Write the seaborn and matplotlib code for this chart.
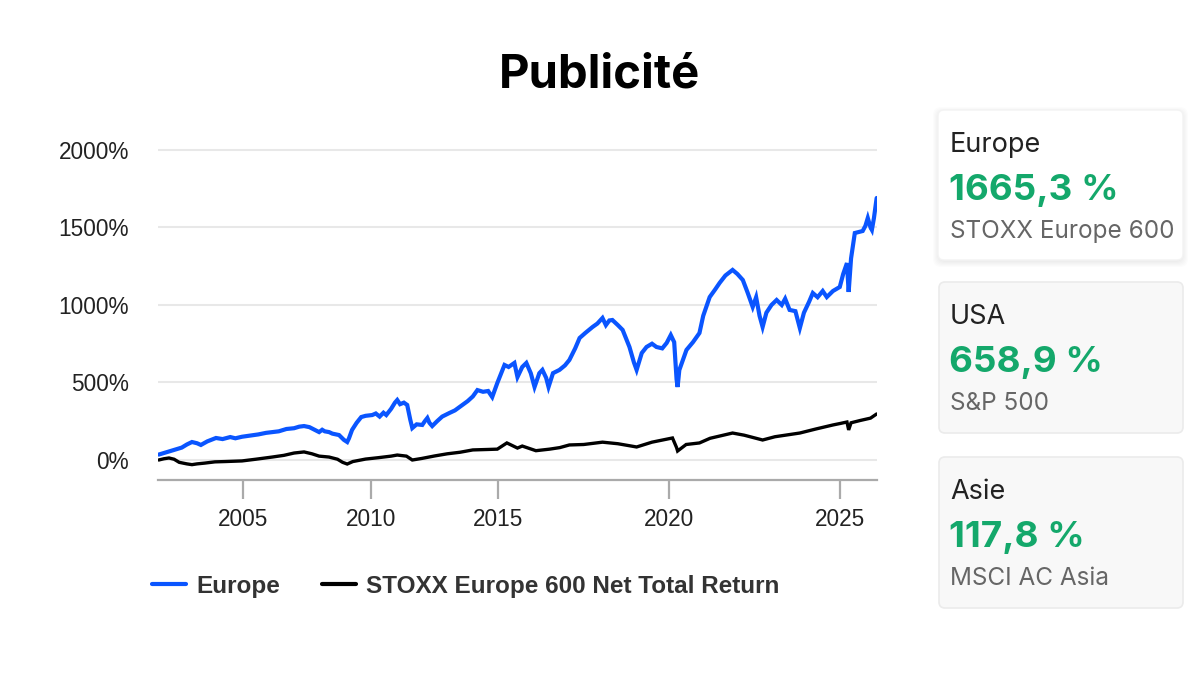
import numpy as np
import pandas as pd
import matplotlib
matplotlib.use("Agg")
import matplotlib.pyplot as plt
import seaborn as sns
from matplotlib.patches import FancyBboxPatch
from matplotlib.ticker import FuncFormatter

# --- data (cumulative performance, %)
europe_years = [2001.7, 2002.0, 2002.3, 2002.6, 2002.8, 2003.0, 2003.2, 2003.35, 2003.6, 2003.94,
                2004.2, 2004.5, 2004.7, 2004.96, 2005.3, 2005.6, 2005.9, 2006.14, 2006.4, 2006.7,
                2007.0, 2007.2, 2007.39, 2007.6, 2007.8, 2007.98, 2008.1, 2008.2, 2008.37, 2008.5,
                2008.76, 2008.95, 2009.08, 2009.15, 2009.27, 2009.45, 2009.63, 2009.8, 2010.06, 2010.2,
                2010.35, 2010.5, 2010.61, 2010.8, 2010.95, 2011.04, 2011.15, 2011.3, 2011.43, 2011.55,
                2011.63, 2011.8, 2012.02, 2012.12, 2012.22, 2012.3, 2012.41, 2012.6, 2012.8, 2013.08,
                2013.3, 2013.59, 2013.8, 2014.0, 2014.18, 2014.4, 2014.6, 2014.76, 2014.96, 2015.18,
                2015.3, 2015.47, 2015.56, 2015.7, 2015.82, 2015.95, 2016.06, 2016.2, 2016.29, 2016.4,
                2016.47, 2016.6, 2016.79, 2016.95, 2017.08, 2017.25, 2017.38, 2017.55, 2017.76, 2017.9,
                2018.05, 2018.15, 2018.25, 2018.34, 2018.5, 2018.64, 2018.84, 2018.97, 2019.05, 2019.2,
                2019.34, 2019.5, 2019.63, 2019.8, 2019.93, 2020.05, 2020.15, 2020.22, 2020.25, 2020.3,
                2020.51, 2020.7, 2020.89, 2021.0, 2021.19, 2021.35, 2021.48, 2021.65, 2021.86, 2022.0,
                2022.16, 2022.3, 2022.45, 2022.55, 2022.65, 2022.74, 2022.85, 2023.0, 2023.15, 2023.3,
                2023.4, 2023.53, 2023.7, 2023.83, 2023.95, 2024.1, 2024.21, 2024.35, 2024.5, 2024.62,
                2024.8, 2025.0, 2025.1, 2025.21, 2025.26, 2025.33, 2025.44, 2025.55, 2025.67, 2025.75,
                2025.82, 2025.9, 2025.94, 2026.0, 2026.08]
europe_values = [35, 50, 65, 80, 100, 116, 108, 97, 120, 142,
                 135, 148, 140, 150, 158, 165, 175, 180, 185, 200,
                 205, 215, 219, 212, 195, 180, 195, 185, 180, 170,
                 161, 130, 116, 140, 194, 240, 277, 285, 290, 300,
                 280, 305, 290, 330, 370, 387, 360, 370, 355, 260,
                 206, 230, 226, 250, 271, 240, 219, 250, 280, 303,
                 320, 355, 380, 410, 451, 440, 445, 406, 497, 613,
                 600, 626, 535, 600, 626, 560, 471, 560, 581, 530,
                 471, 560, 581, 610, 645, 720, 787, 820, 858, 880,
                 916, 870, 900, 903, 870, 839, 729, 630, 581, 690,
                 729, 750, 729, 720, 755, 806, 760, 520, 471, 580,
                 710, 760, 819, 930, 1051, 1100, 1142, 1190, 1226, 1200,
                 1161, 1080, 987, 1050, 930, 858, 950, 1000, 1032, 1000,
                 1040, 968, 960, 851, 950, 1020, 1077, 1050, 1090, 1051,
                 1090, 1116, 1200, 1270, 1084, 1300, 1464, 1470, 1477, 1510,
                 1561, 1500, 1484, 1560, 1690]

stoxx_years = [2001.7, 2001.9, 2002.1, 2002.3, 2002.5, 2002.8, 2003.0, 2003.2, 2003.5, 2003.9,
               2004.3, 2004.96, 2005.5, 2006.14, 2006.6, 2007.0, 2007.39, 2007.7, 2007.98, 2008.37,
               2008.7, 2008.9, 2009.08, 2009.3, 2009.8, 2010.3, 2010.8, 2011.04, 2011.4, 2011.63,
               2012.0, 2012.5, 2013.0, 2013.5, 2014.0, 2014.6, 2014.96, 2015.25, 2015.56, 2015.7,
               2016.1, 2016.5, 2016.8, 2017.08, 2017.5, 2018.05, 2018.5, 2019.05, 2019.5, 2020.1,
               2020.22, 2020.25, 2020.5, 2020.89, 2021.2, 2021.86, 2022.2, 2022.74, 2023.1, 2023.83,
               2024.3, 2024.8, 2025.0, 2025.21, 2025.26, 2025.33, 2025.6, 2025.9, 2026.08]
stoxx_values = [0, 8, 13, 5, -15, -25, -30, -25, -20, -12,
                -10, -6, 5, 19, 30, 45, 52, 40, 25, 19,
                5, -15, -26, -10, 6, 15, 25, 32, 25, 0,
                10, 26, 40, 50, 65, 68, 70, 110, 77, 90,
                60, 70, 80, 97, 100, 115, 105, 84, 115, 142,
                80, 58, 100, 110, 140, 174, 160, 129, 150, 174,
                200, 226, 235, 245, 194, 240, 255, 270, 297]

series_names = ["Europe", "STOXX Europe 600 Net Total Return"]
year_ticks = [2005, 2010, 2015, 2020, 2025]
pct_ticks = [0, 500, 1000, 1500, 2000]

card_titles = ["Europe", "USA", "Asie"]
card_values = ["1665,3 %", "658,9 %", "117,8 %"]
card_indices = ["STOXX Europe 600", "S&P 500", "MSCI AC Asia"]

df = pd.concat([
    pd.DataFrame({"year": europe_years, "perf": europe_values, "serie": series_names[0]}),
    pd.DataFrame({"year": stoxx_years, "perf": stoxx_values, "serie": series_names[1]}),
])

sns.set_style("white")
plt.rcParams["font.family"] = ["Liberation Sans", "DejaVu Sans"]

fig = plt.figure(figsize=(12, 6.75), dpi=100)
ax = fig.add_axes([158 / 1200, 195 / 675, 719 / 1200, 340 / 675])

palette = {series_names[0]: "#0a55ff", series_names[1]: "#000000"}
sns.lineplot(data=df, x="year", y="perf", hue="serie", palette=palette, ax=ax,
             linewidth=2.6, estimator=None)
for line, lw in zip(ax.lines, [3.0, 2.4]):
    line.set_linewidth(lw)
    line.set_solid_joinstyle("miter")

# ordinal-looking time axis: 2002-2015 is squeezed compared to 2015-2026
knot_years = [1990, 2015, 2040]
knot_pos = [-25 * 25.5, 0, 25 * 34.1]
ax.set_xscale("function", functions=(lambda x: np.interp(x, knot_years, knot_pos),
                                     lambda x: np.interp(x, knot_pos, knot_years)))
ax.set_xlim(2001.67, 2026.09)
ax.set_ylim(-129, 2064)
ax.set_xticks(year_ticks)
ax.set_xticklabels([str(y) for y in year_ticks])
ax.set_yticks(pct_ticks)
ax.yaxis.set_major_formatter(FuncFormatter(lambda v, p: f"{v:.0f}%"))
ax.set_xlabel("")
ax.set_ylabel("")

ax.yaxis.grid(True, color="#e8e8e8", linewidth=1.5)
ax.xaxis.grid(False)
for s in ["top", "right", "left"]:
    ax.spines[s].set_visible(False)
ax.spines["bottom"].set_color("#aaaaaa")
ax.spines["bottom"].set_linewidth(1.6)
ax.tick_params(axis="x", bottom=True, direction="out", length=14, width=1.6, color="#aaaaaa",
               pad=6, labelsize=16.3, labelcolor="#222222")
ax.tick_params(axis="y", left=False, length=0, pad=21, labelsize=16.3, labelcolor="#222222")

handles, labels = ax.get_legend_handles_labels()
for h in handles:
    h.set_linewidth(3)
leg = ax.legend(handles, labels, loc="center left", bbox_to_anchor=(152 / 1200, 1 - 586 / 675),
                bbox_transform=fig.transFigure, ncol=2, frameon=False, borderpad=0,
                borderaxespad=0, handlelength=1.4, handletextpad=0.42, columnspacing=1.72,
                prop={"family": "Liberation Sans", "weight": "bold", "size": 17.5})
for t in leg.get_texts():
    t.set_color("#333333")

# overlay in pixel units for title and cards
ov = fig.add_axes([0, 0, 1, 1])
ov.set_xlim(0, 1200)
ov.set_ylim(675, 0)
ov.axis("off")

ov.text(600, 88, "Publicité", ha="center", va="baseline", family="Inter",
        weight="bold", size=34, color="#000000")

card_tops = [110, 282, 457]
for i, top in enumerate(card_tops):
    if i == 0:
        for k in range(6):
            ov.add_patch(FancyBboxPatch((938 - k, top - k + 2), 245 + 2 * k, 150 + 2 * k,
                                        boxstyle="round,pad=0,rounding_size=8",
                                        facecolor="#000000", edgecolor="none", alpha=0.012))
        ov.add_patch(FancyBboxPatch((938, top), 245, 150, boxstyle="round,pad=0,rounding_size=6",
                                    facecolor="#ffffff", edgecolor="#f3f3f3", linewidth=1))
    else:
        ov.add_patch(FancyBboxPatch((939, top), 244, 151, boxstyle="round,pad=0,rounding_size=6",
                                    facecolor="#f8f8f8", edgecolor="#ebebeb", linewidth=1.2))
    ov.text(950, top + 42, card_titles[i], ha="left", va="baseline", family="Inter",
            size=19.5, color="#222222")
    ov.text(949, top + 90, card_values[i], ha="left", va="baseline", family="Inter",
            weight="bold", size=26.5, color="#14a86b")
    ov.text(950, top + 128, card_indices[i], ha="left", va="baseline", family="Inter",
            size=17.5, color="#666666")

fig.savefig("out.png", dpi=100)
